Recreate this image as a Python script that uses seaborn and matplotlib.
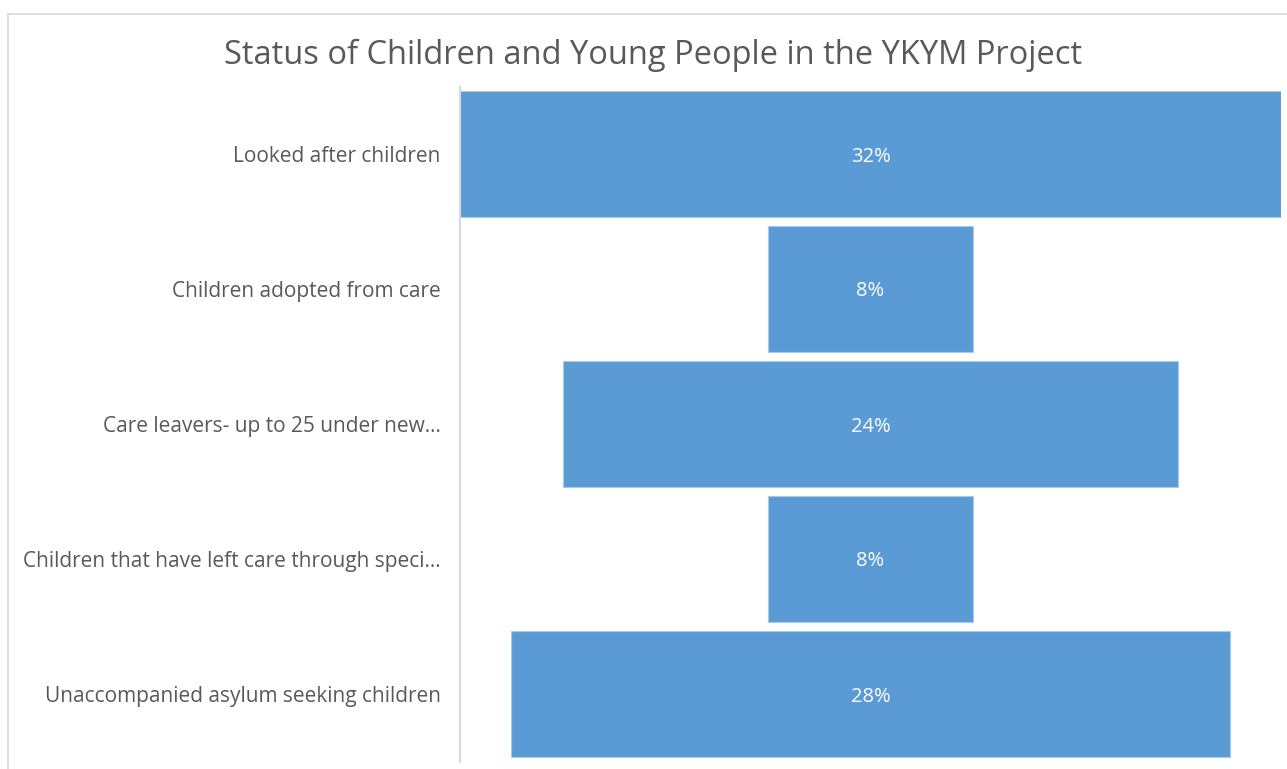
import matplotlib
matplotlib.use("Agg")
import matplotlib.pyplot as plt
from matplotlib.lines import Line2D
import seaborn as sns
import pandas as pd

# Funnel stages and their shares (%)
categories = [
    "Looked after children",
    "Children adopted from care",
    "Care leavers- up to 25 under new…",
    "Children that have left care through speci…",
    "Unaccompanied asylum seeking children",
]
shares = [32, 8, 24, 8, 28]
value_labels = ["32%", "8%", "24%", "8%", "28%"]

BAR_COLOR = "#5B9BD5"
TEXT_COLOR = "#595959"

sns.set_theme(style="white")
plt.rcParams["font.family"] = ["Open Sans", "DejaVu Sans"]

df = pd.DataFrame({"stage": categories, "share": shares})

W, H = 1287, 769
fig = plt.figure(figsize=(W / 100, H / 100), dpi=100)
ax = fig.add_axes([460 / W, 1 - 761.5 / H, 821 / W, 675 / H])

sns.barplot(data=df, x="share", y="stage", orient="h", color=BAR_COLOR,
            saturation=1, width=0.933, edgecolor="#A9C9EB", linewidth=0.8, ax=ax)

# Centre each bar to form the funnel
widest = max(shares)
for patch, v in zip(ax.patches, shares):
    patch.set_x((widest - v) / 2)

for i, (v, lab) in enumerate(zip(shares, value_labels)):
    ax.text(widest / 2, i, lab, ha="center", va="center_baseline", color="white",
            fontsize=14.5)

ax.set_xlim(0, widest)
ax.set_ylim(4.5, -0.5)
ax.set_xlabel("")
ax.set_ylabel("")
ax.set_xticks([])
ax.tick_params(axis="y", length=0, pad=14, labelsize=15, labelcolor=TEXT_COLOR)
for lbl in ax.get_yticklabels():
    lbl.set_verticalalignment("center_baseline")
for side in ["top", "right", "bottom"]:
    ax.spines[side].set_visible(False)
ax.spines["left"].set_color("#D9D9D9")
ax.spines["left"].set_linewidth(1.5)

fig.text(653 / W, 1 - 55 / H, "Status of Children and Young People in the YKYM Project",
         ha="center", va="center", fontsize=23.5, color=TEXT_COLOR)

# Chart area frame
fig.add_artist(Line2D([8 / W, 1], [1 - 14 / H, 1 - 14 / H], transform=fig.transFigure,
                      color="#D9D9D9", linewidth=1.2))
fig.add_artist(Line2D([8 / W, 8 / W], [0, 1 - 14 / H], transform=fig.transFigure,
                      color="#D9D9D9", linewidth=1.2))

fig.savefig("out.png", dpi=100, facecolor="white")
